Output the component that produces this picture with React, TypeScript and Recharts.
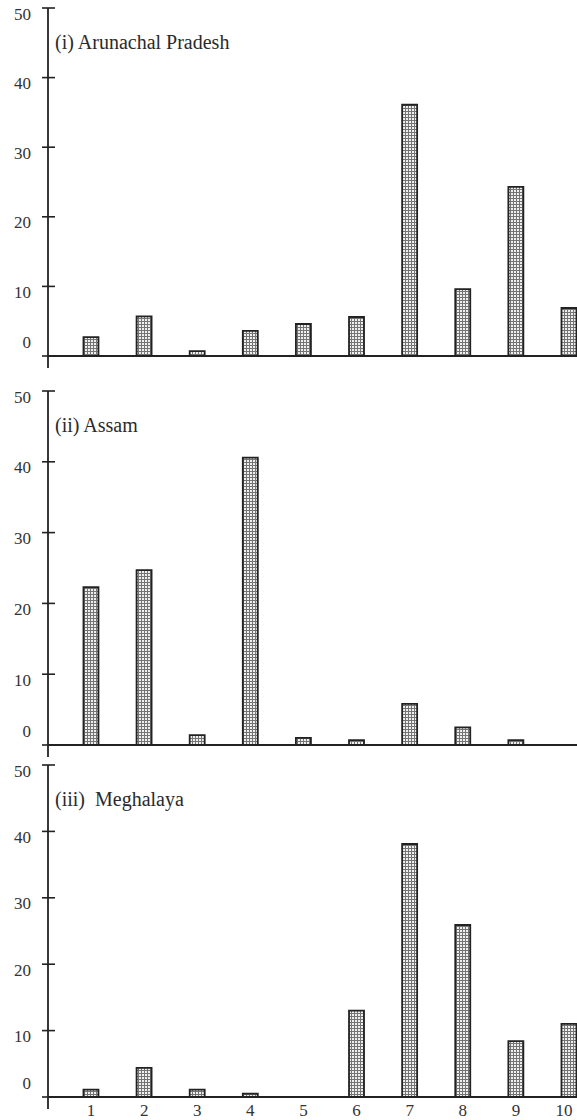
import { BarChart, Bar, XAxis, YAxis } from "recharts";

const categories = [1, 2, 3, 4, 5, 6, 7, 8, 9, 10];
const arunachal = [2.7, 5.7, 0.7, 3.6, 4.6, 5.6, 36.1, 9.6, 24.3, 6.9];
const assam = [22.3, 24.7, 1.4, 40.6, 1.0, 0.7, 5.8, 2.5, 0.7, 0];
const meghalaya = [1.1, 4.4, 1.1, 0.5, 0, 13.0, 38.1, 25.9, 8.4, 11.0];
const yTicks = [0, 10, 20, 30, 40, 50];

const serif = "'Liberation Serif', 'DejaVu Serif', serif";
const ink = "#222";

function YTick(props: any) {
  const { x, y, payload } = props;
  const v = payload.value;
  const dy = v === 0 ? -14 : 6;
  return (
    <g>
      <line x1={x - 6} x2={x + 7} y1={y} y2={y} stroke={ink} strokeWidth={1.6} />
      {v === 0 && <line x1={x} x2={x} y1={y} y2={y + 12} stroke={ink} strokeWidth={1.8} />}
      <text
        x={x - 17}
        y={y + dy}
        textAnchor="end"
        dominantBaseline="central"
        fontSize={17}
        fontFamily={serif}
        fill="#333"
      >
        {v}
      </text>
    </g>
  );
}

function XTick(props: any) {
  const { x, y, payload } = props;
  return (
    <text
      x={Math.min(x, 564)}
      y={y}
      textAnchor="middle"
      dominantBaseline="central"
      fontSize={17}
      fontFamily={serif}
      fill="#333"
    >
      {payload.value}
    </text>
  );
}

interface PanelProps {
  id: string;
  title: string;
  values: number[];
  top: number;
  height: number;
  marginTop: number;
  marginBottom: number;
  showX?: boolean;
}

function Panel({ id, title, values, top, height, marginTop, marginBottom, showX }: PanelProps) {
  const data = categories.map((c, i) => ({ x: c, v: values[i] }));
  return (
    <div style={{ position: "absolute", left: 0, top, width: 577, height }}>
      <BarChart
        width={577}
        height={height}
        data={data}
        margin={{ top: marginTop, right: 0, bottom: marginBottom, left: 0 }}
        style={{ overflow: "visible" }}
      >
        <defs>
          <pattern id={id} width="3" height="3" patternUnits="userSpaceOnUse">
            <rect width="3" height="3" fill="#efefef" />
            <path d="M0 0.5H3M0.5 0V3" stroke="#747474" strokeWidth="1" />
          </pattern>
        </defs>
        <XAxis
          dataKey="x"
          type="number"
          domain={[0.19, 10.15]}
          ticks={categories}
          allowDataOverflow
          axisLine={{ stroke: ink, strokeWidth: 1.8 }}
          tickLine={false}
          tickSize={0}
          tickMargin={13}
          tick={showX ? <XTick /> : false}
          height={showX ? 23 : 1}
          interval={0}
        />
        <YAxis
          domain={[0, 50]}
          ticks={yTicks}
          width={48}
          axisLine={{ stroke: ink, strokeWidth: 1.8 }}
          tickLine={false}
          tickSize={0}
          tickMargin={0}
          tick={<YTick />}
          interval={0}
        />
        <Bar
          dataKey="v"
          barSize={15}
          fill={`url(#${id})`}
          stroke="#222"
          strokeWidth={1.8}
          isAnimationActive={false}
        />
      </BarChart>
      <div
        style={{
          position: "absolute",
          left: 55,
          top: marginTop + 22,
          fontFamily: serif,
          fontSize: 20,
          color: "#2a2a2a",
          whiteSpace: "pre",
          lineHeight: "24px",
        }}
      >
        {title}
      </div>
    </div>
  );
}

export default function App() {
  return (
    <div
      style={{
        position: "absolute",
        left: 0,
        top: 0,
        width: 577,
        height: 1120,
        background: "#fff",
        overflow: "hidden",
      }}
    >
      <Panel id="hatchA" title="(i) Arunachal Pradesh" values={arunachal} top={0} height={372} marginTop={8} marginBottom={15} />
      <Panel id="hatchB" title="(ii) Assam" values={assam} top={378} height={382} marginTop={13} marginBottom={14} />
      <Panel id="hatchC" title="(iii)  Meghalaya" values={meghalaya} top={755} height={365} marginTop={10} marginBottom={0} showX />
    </div>
  );
}
